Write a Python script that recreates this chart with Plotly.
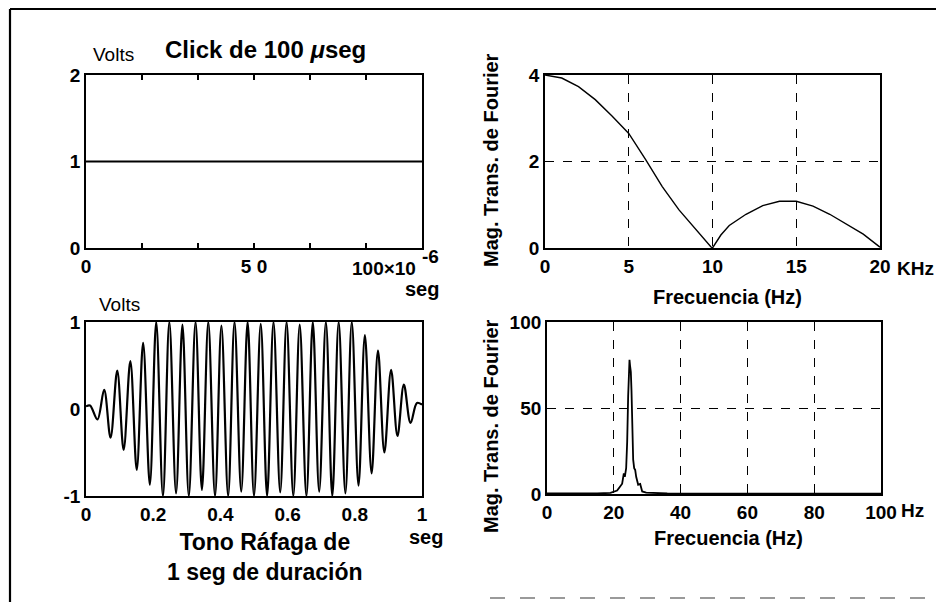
import plotly.graph_objects as go

# ---------------- data ----------------
# Top-left: 100 microsecond click (seconds, volts)
click_t = [0.0, 100e-6]
click_v = [1.0, 1.0]
click_ticks = [0, 16.67e-6, 33.33e-6, 50e-6, 66.67e-6, 83.33e-6, 100e-6]
click_ticklabels = ["0", "", "", "5 0", "", "", ""]

# Top-right: magnitude of Fourier transform of the click (kHz)
ft_freq = [0, 1, 2, 3, 4, 5, 6, 7, 8, 9, 9.9, 10, 10.5, 11, 12, 13, 14, 15, 16, 17, 18, 19, 19.9, 20]
ft_mag = [4.0, 3.93, 3.73, 3.43, 3.05, 2.65, 2.05, 1.42, 0.88, 0.42, 0.03, 0.0, 0.3, 0.52,
          0.78, 0.98, 1.08, 1.08, 0.97, 0.78, 0.55, 0.32, 0.05, 0.02]

# Bottom-left: 1 second tone burst (seconds, volts), extremes of each half cycle
burst_t = [0.000, 0.012, 0.034, 0.054, 0.073, 0.093, 0.112, 0.132, 0.151, 0.170, 0.190,
           0.209, 0.229, 0.248, 0.268, 0.287, 0.306, 0.326, 0.345, 0.364, 0.384, 0.403,
           0.423, 0.442, 0.462, 0.481, 0.500, 0.520, 0.539, 0.558, 0.578, 0.597, 0.617,
           0.636, 0.656, 0.675, 0.694, 0.714, 0.733, 0.752, 0.772, 0.791, 0.811, 0.830,
           0.850, 0.869, 0.888, 0.908, 0.927, 0.946, 0.966, 0.985, 1.000]
burst_v = [0.03, 0.04, -0.12, 0.22, -0.33, 0.44, -0.47, 0.55, -0.70, 0.76, -0.87,
           1.0, -1.0, 1.0, -0.97, 0.97, -1.0, 1.0, -0.93, 1.0, -1.0, 0.96,
           -1.0, 1.0, -0.95, 1.0, -1.0, 0.98, -1.0, 1.0, -0.96, 1.0, -1.0,
           0.97, -1.0, 1.0, -0.95, 1.0, -1.0, 1.0, -0.97, 1.0, -0.88, 0.85,
           -0.74, 0.67, -0.50, 0.45, -0.31, 0.28, -0.16, 0.07, 0.05]

# Bottom-right: spectrum of the burst (Hz)
spec_f = [0, 5, 10, 15, 19, 19.7, 21, 21.9, 22.5, 23.0, 23.3, 23.7, 24.0, 24.3, 24.7, 24.9,
          25.1, 25.3, 25.5, 25.8, 26.1, 26.4, 26.7, 27.3, 27.9, 28.5, 29.7, 33.7, 36, 50, 70, 100]
spec_m = [0.3, 0.2, 0.3, 0.4, 0.6, 1.0, 2.0, 4.4, 6.0, 12.0, 10.0, 15.0, 30.0, 57.0, 78.0, 74.0,
          71.0, 60.0, 38.0, 20.0, 15.0, 14.0, 10.0, 5.4, 5.8, 1.5, 0.8, 0.6, 0.3, 0.2, 0.2, 0.2]

# ---------------- helpers ----------------
W, H = 936, 602


def px(x):
    return x / W


def py(y):
    return 1 - y / H


NUMFONT = dict(family="Liberation Sans Narrow, Liberation Sans, Arial", size=19,
               color="black", weight="bold")
LABFONT = dict(family="Liberation Sans, Arial", size=20, color="black", weight="bold")
VOLTFONT = dict(family="Liberation Sans, Arial", size=19, color="black")
SEGFONT = dict(family="Liberation Sans, Arial", size=20, color="black", weight="bold")

fig = go.Figure()

fig.add_trace(go.Scatter(x=click_t, y=click_v, mode="lines",
                         line=dict(color="black", width=2.2), xaxis="x", yaxis="y",
                         showlegend=False))
fig.add_trace(go.Scatter(x=ft_freq, y=ft_mag, mode="lines",
                         line=dict(color="black", width=1.4), xaxis="x2", yaxis="y2",
                         showlegend=False))
fig.add_trace(go.Scatter(x=burst_t, y=burst_v, mode="lines",
                         line=dict(color="black", width=2.2, shape="spline"),
                         xaxis="x3", yaxis="y3", showlegend=False))
fig.add_trace(go.Scatter(x=spec_f, y=spec_m, mode="lines",
                         line=dict(color="black", width=1.8), xaxis="x4", yaxis="y4",
                         showlegend=False))


def frame(mirror=True):
    return dict(showline=True, linecolor="black", linewidth=1.8, mirror=mirror,
                zeroline=False, tickfont=NUMFONT, fixedrange=True, automargin=False)


grid = dict(showgrid=True, gridcolor="black", gridwidth=1.3, griddash="dash")
nogrid = dict(showgrid=False)

dom_tl_x = [px(86), px(422)]
dom_tr_x = [px(545), px(880)]
dom_bl_x = [px(86), px(422)]
dom_br_x = [px(547), px(881)]
dom_top_y = [py(248), py(75)]
dom_bot_y = [py(496), py(322)]
dom_br_y = [py(494), py(322)]

fig.update_layout(
    template="none",
    width=W, height=H, autosize=False,
    margin=dict(l=0, r=0, t=0, b=0, pad=0, autoexpand=False),
    paper_bgcolor="white", plot_bgcolor="white",
    xaxis=dict(domain=dom_tl_x, anchor="y", range=[0, 100e-6], tickvals=click_ticks,
               ticktext=click_ticklabels, ticks="inside", ticklen=5, tickwidth=1.5,
               tickcolor="black", **nogrid, **frame("ticks")),
    yaxis=dict(domain=dom_top_y, anchor="x", range=[0, 2], tickvals=[0, 1, 2],
               ticks="", **nogrid, **frame()),
    xaxis2=dict(domain=dom_tr_x, anchor="y2", range=[0, 20], tickvals=[0, 5, 10, 15, 20],
                ticktext=["0", "5", "10", "15", "20"], ticks="", **grid, **frame()),
    yaxis2=dict(domain=dom_top_y, anchor="x2", range=[0, 4], tickvals=[0, 2, 4],
                ticks="", **grid, **frame()),
    xaxis3=dict(domain=dom_bl_x, anchor="y3", range=[0, 1],
                tickvals=[0, 0.2, 0.4, 0.6, 0.8, 1],
                ticktext=["0", "0.2", "0.4", "0.6", "0.8", "1"], ticks="", **nogrid, **frame()),
    yaxis3=dict(domain=dom_bot_y, anchor="x3", range=[-1, 1], tickvals=[-1, 0, 1],
                ticktext=["-1", "0", "1"], ticks="", **nogrid, **frame()),
    xaxis4=dict(domain=dom_br_x, anchor="y4", range=[0, 100],
                tickvals=[0, 20, 40, 60, 80, 100],
                ticktext=["0", "20", "40", "60", "80", "100"], ticks="", **grid, **frame()),
    yaxis4=dict(domain=dom_br_y, anchor="x4", range=[0, 100], tickvals=[0, 50, 100],
                ticks="", **grid, **frame()),
)

annotations = [
    dict(x=px(265), y=py(50), text="Click de 100 <i>μ</i>seg",
         font=dict(family="Liberation Sans, Arial", size=24, color="black", weight="bold")),
    dict(x=px(113), y=py(55), text="Volts", font=VOLTFONT),
    dict(x=px(120), y=py(304), text="Volts", font=VOLTFONT),
    dict(x=px(418), y=py(268), text="100×10", xanchor="right", font=NUMFONT),
    dict(x=px(420), y=py(256), text="-6", xanchor="left", font=NUMFONT),
    dict(x=px(422), y=py(289), text="seg", font=SEGFONT),
    dict(x=px(426), y=py(537), text="seg", font=SEGFONT),
    dict(x=px(895), y=py(268), text="KHz", xanchor="left", font=NUMFONT),
    dict(x=px(899), y=py(510), text="Hz", xanchor="left", font=NUMFONT),
    dict(x=px(727), y=py(297), text="Frecuencia (Hz)", font=LABFONT),
    dict(x=px(728), y=py(538), text="Frecuencia (Hz)", font=LABFONT),
    dict(x=px(491), y=py(160), text="Mag. Trans. de Fourier", textangle=-90, font=LABFONT),
    dict(x=px(491), y=py(426), text="Mag. Trans. de Fourier", textangle=-90, font=LABFONT),
    dict(x=px(265), y=py(557), text="Tono Ráfaga de<br>1 seg de duración", align="center",
         font=dict(family="Liberation Sans, Arial", size=23, color="black", weight="bold")),
]
for a in annotations:
    a.setdefault("xref", "paper")
    a.setdefault("yref", "paper")
    a.setdefault("showarrow", False)
    a.setdefault("xanchor", "center")
    a.setdefault("yanchor", "middle")
fig.update_layout(annotations=annotations)

fig.update_layout(shapes=[
    dict(type="line", xref="paper", yref="paper", x0=px(10), x1=px(10), y0=py(9), y1=0,
         line=dict(color="black", width=2.2)),
    dict(type="line", xref="paper", yref="paper", x0=px(10), x1=1, y0=py(9), y1=py(9),
         line=dict(color="black", width=2.2)),
    dict(type="line", xref="paper", yref="paper", x0=px(490), x1=1, y0=py(598), y1=py(598),
         line=dict(color="#9a9a9a", width=2, dash="longdash")),
])

fig.write_html("out.html", config=dict(responsive=False, displayModeBar=False))
